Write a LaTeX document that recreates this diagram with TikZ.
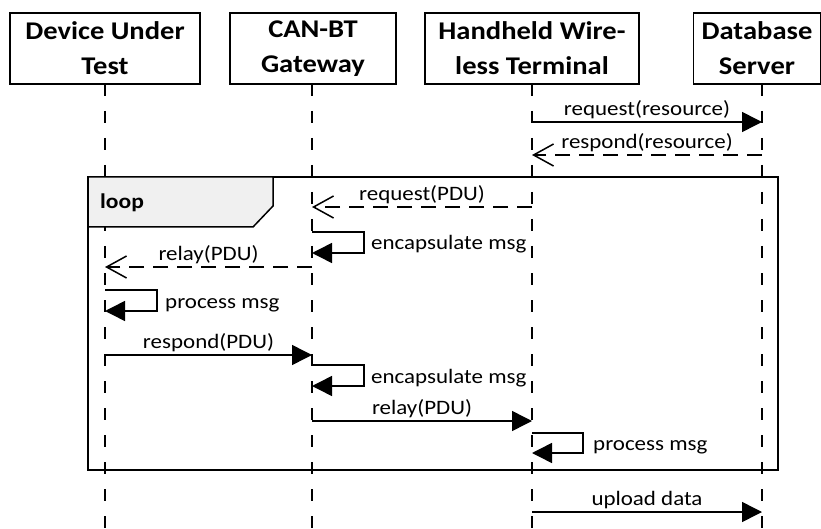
\documentclass[tikz,border=0pt]{standalone}
\usepackage{fontspec}
\setmainfont{Carlito}[FakeStretch=1.12]
\usetikzlibrary{arrows.meta,calc}

\begin{document}
\begin{tikzpicture}[x=1pt,y=-1pt,
  actor/.style={draw, line width=1.5pt, minimum height=71pt, align=center,
    inner sep=0pt, font=\bfseries\fontsize{25.5}{35}\selectfont},
  life/.style={line width=1.5pt, dash pattern=on 12pt off 15pt},
  msg/.style={line width=1.5pt, -{Triangle[length=20pt,width=20pt]}},
  reply/.style={line width=1.5pt, dash pattern=on 15pt off 9pt,
    -{Straight Barb[length=20pt,width=22pt,line width=1.5pt]}},
  lbl/.style={font=\fontsize{20.5}{22}\selectfont, inner sep=2pt}]

  \useasboundingbox (0,0) rectangle (821,529);

  % Lifeline positions
  \def\xdut{105}
  \def\xgw{312}
  \def\xhwt{532}
  \def\xdb{762}

  % Actor boxes
  \node[actor, minimum width=190pt] (dut) at (105,48.5) {Device Under\\Test};
  \node[actor, minimum width=166pt] (gw) at (313,48.5) {CAN-BT\\Gateway};
  \node[actor, minimum width=214pt] (hwt) at (532,48.5) {Handheld Wire-\\less Terminal};
  \node[actor, minimum width=127pt] (db) at (757,48.5) {Database\\Server};

  % Lifelines
  \coordinate (dut-l) at (\xdut,84);
  \coordinate (gw-l) at (\xgw,84);
  \coordinate (hwt-l) at (\xhwt,84);
  \coordinate (db-l) at (\xdb,84);
  \coordinate (bottom) at (0,529);
  \foreach \n in {dut,gw,hwt,db} {
    \draw[life] (\n-l) -- (\n-l |- bottom);
  }

  % Loop frame
  \draw[line width=1.5pt] (88,177) rectangle (778,470);
  \filldraw[line width=1.5pt, fill=gray!12] (88,177) -- (273,177) -- (273,206)
    -- (253,227) -- (88,227) -- cycle;
  \node[anchor=base west, inner sep=0pt, font=\bfseries\fontsize{21}{22}\selectfont] (loop) at (100,209) {loop};

  % Message rows
  \coordinate (r1) at (0,122);
  \coordinate (r2) at (0,155);
  \coordinate (r3) at (0,207);
  \coordinate (r4) at (0,232);
  \coordinate (r4b) at (0,253);
  \coordinate (r5) at (0,267);
  \coordinate (r6) at (0,290);
  \coordinate (r6b) at (0,311);
  \coordinate (r7) at (0,355);
  \coordinate (r8) at (0,365);
  \coordinate (r8b) at (0,386);
  \coordinate (r9) at (0,421);
  \coordinate (r10) at (0,433);
  \coordinate (r10b) at (0,453);
  \coordinate (r11) at (0,512);

  % Messages
  \draw[msg] (hwt-l |- r1) -- node[lbl, above] (m1) {request(resource)} (db-l |- r1);
  \draw[reply] (db-l |- r2) -- node[lbl, above] (m2) {respond(resource)} (hwt-l |- r2);
  \draw[reply] (hwt-l |- r3) -- node[lbl, above] (m3) {request(PDU)} (gw-l |- r3);
  \draw[msg] (gw-l |- r4) -- ++(52,0) |- (gw-l |- r4b);
  \node[lbl, anchor=base west] (m4) at ($(gw-l |- r4b) + (57,-3)$) {encapsulate msg};
  \draw[reply] (gw-l |- r5) -- node[lbl, above] (m5) {relay(PDU)} (dut-l |- r5);
  \draw[msg] (dut-l |- r6) -- ++(52,0) |- (dut-l |- r6b);
  \node[lbl, anchor=base west] (m6) at ($(dut-l |- r6b) + (58,-3)$) {process msg};
  \draw[msg] (dut-l |- r7) -- node[lbl, above] (m7) {respond(PDU)} (gw-l |- r7);
  \draw[msg] (gw-l |- r8) -- ++(52,0) |- (gw-l |- r8b);
  \node[lbl, anchor=base west] (m8) at ($(gw-l |- r8b) + (57,-3)$) {encapsulate msg};
  \draw[msg] (gw-l |- r9) -- node[lbl, above] (m9) {relay(PDU)} (hwt-l |- r9);
  \draw[msg] (hwt-l |- r10) -- ++(51,0) |- (hwt-l |- r10b);
  \node[lbl, anchor=base west] (m10) at ($(hwt-l |- r10b) + (59,-3)$) {process msg};
  \draw[msg] (hwt-l |- r11) -- node[lbl, above] (m11) {upload data} (db-l |- r11);

\end{tikzpicture}
\end{document}
